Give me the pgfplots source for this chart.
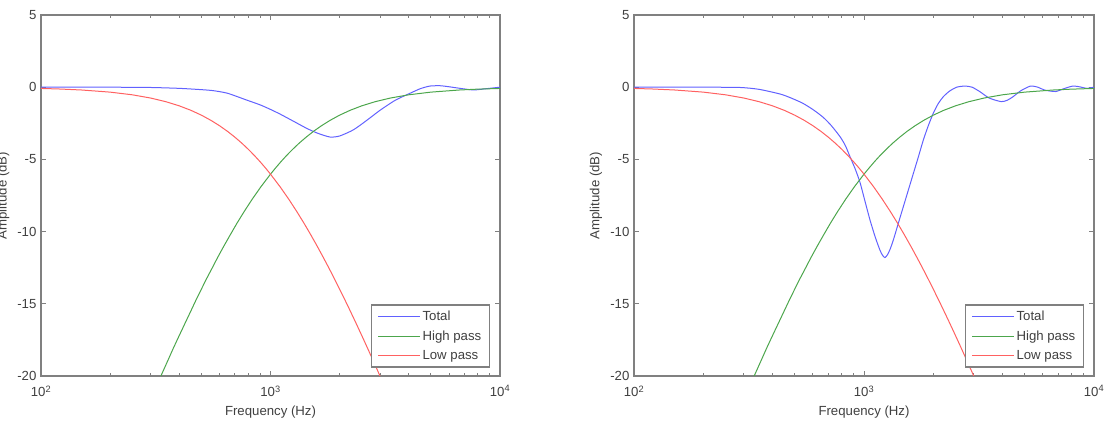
\documentclass[border=0pt]{standalone}
\usepackage{fontspec}
\setmainfont{Liberation Sans}
\usepackage{pgfplots}
\pgfplotsset{compat=1.18}

\definecolor{axgray}{rgb}{0.5,0.5,0.5}
\definecolor{txtgray}{rgb}{0.25,0.25,0.25}
\definecolor{mblue}{rgb}{0.38,0.38,1}
\definecolor{mgreen}{rgb}{0.3,0.65,0.3}
\definecolor{mred}{rgb}{1,0.38,0.38}

% Crossover filter responses: low pass and high pass sections (fc = 1 kHz)
\pgfplotstableread{
f      dB
100    -0.086
120    -0.124
150    -0.193
200    -0.341
250    -0.527
300    -0.749
350    -1.004
400    -1.289
450    -1.601
500    -1.938
550    -2.296
600    -2.671
650    -3.061
700    -3.464
750    -3.876
800    -4.297
850    -4.723
900    -5.154
950    -5.587
1000   -6.021
1100   -6.888
1200   -7.747
1300   -8.596
1400   -9.425
1500   -10.238
1600   -11.029
1700   -11.799
1800   -12.547
1900   -13.274
2000   -13.979
2100   -14.664
2200   -15.328
2350   -16.288
2500   -17.207
2650   -18.086
2800   -18.930
3000   -20.000
3200   -21.016
}\lowpass

\pgfplotstableread{
f      dB
312.5  -21.016
333    -20.000
357    -18.930
377    -18.086
400    -17.207
426    -16.288
455    -15.328
476    -14.664
500    -13.979
526    -13.274
556    -12.547
588    -11.799
625    -11.029
667    -10.238
714    -9.425
769    -8.596
833    -7.747
909    -6.888
1000   -6.021
1053   -5.587
1111   -5.154
1176   -4.723
1250   -4.297
1333   -3.876
1429   -3.464
1538   -3.061
1667   -2.671
1818   -2.296
2000   -1.938
2222   -1.601
2500   -1.289
2857   -1.004
3333   -0.749
4000   -0.527
5000   -0.341
6667   -0.193
8000   -0.135
10000  -0.086
}\highpass

% Summed response, first alignment
\pgfplotstableread{
f      dB
100    0
150    0
200    0
300    -0.02
400    -0.08
500    -0.17
563    -0.24
650    -0.42
787    -0.89
900    -1.22
1000   -1.54
1100   -1.86
1250   -2.33
1438   -2.85
1600   -3.18
1815   -3.45
2000   -3.38
2293   -2.96
2600   -2.35
3000   -1.60
3500   -0.90
4056   -0.42
4500   -0.10
4955   0.08
5500   0.10
6000   0.03
6697   -0.08
7662   -0.19
8750   -0.10
10000  0
}\totalA

% Summed response, second alignment
\pgfplotstableread{
f      dB
100    0
200    0
289    -0.02
350    -0.15
431    -0.47
477    -0.72
540    -1.10
600    -1.55
664    -2.08
720    -2.65
787    -3.43
830    -4.05
869    -4.81
915    -5.65
961    -6.60
1010   -7.90
1062   -9.20
1120   -10.40
1174   -11.30
1205   -11.65
1233   -11.80
1265   -11.60
1300   -11.20
1340   -10.60
1390   -9.76
1435   -9.02
1530   -7.55
1637   -6.00
1720   -4.87
1811   -3.66
1900   -2.70
2000   -1.81
2100   -1.15
2212   -0.66
2350   -0.28
2529   0.00
2750   0.08
2950   0.00
3190   -0.31
3500   -0.75
3950   -1.00
4200   -0.90
4446   -0.66
4800   -0.25
5300   0.08
5700   0.00
6100   -0.20
6800   -0.30
7400   -0.10
8100   0.08
8700   0.02
9300   -0.08
10000  0
}\totalB

\begin{document}
\fontsize{13.2}{15.5}\selectfont
\begin{tikzpicture}[x=1pt,y=1pt]
  \begin{axis}[
    at={(41pt,47pt)}, anchor=south west,
    xmode=log, log basis x=10,
    scale only axis, width=459pt, height=361pt,
    xmin=100, xmax=10000, ymin=-20, ymax=5,
    xtick={100,1000,10000},
    xticklabels={10\textsuperscript{2},10\textsuperscript{3},10\textsuperscript{4}},
    minor xtick={200,300,400,500,600,700,800,900,2000,3000,4000,5000,6000,7000,8000,9000},
    ytick={-20,-15,-10,-5,0,5},
    yticklabels={-20,-15,-10,-5,0,5},
    tick align=inside,
    major tick length=5pt, minor tick length=3pt,
    axis line style={axgray, line width=1.5pt},
    tick style={axgray, line width=1pt},
    tick label style={text=txtgray},
    xticklabel style={yshift=-5pt},
    label style={text=txtgray},
    xlabel={Frequency (Hz)}, ylabel={Amplitude (dB)},
    xlabel style={at={(axis description cs:0.5,-0.0997)}, anchor=center},
    ylabel style={at={(axis description cs:-0.0826,0.5)}, anchor=center},
    legend style={at={(axis description cs:1,0)}, anchor=south east,
      xshift=-10pt, yshift=8pt, draw=axgray, line width=1.5pt,
      inner xsep=6pt, inner ysep=4pt,
      nodes={inner sep=2pt}, row sep=4pt},
    legend cell align=left,
    legend image code/.code={\draw[line width=1pt] (0pt,0pt) -- (42pt,0pt);},
  ]
    \addplot[mblue, line width=1pt, smooth, tension=0.4]  table[x=f, y=dB] {\totalA};
    \addlegendentry{\textcolor{txtgray}{Total}}
    \addplot[mgreen, line width=1pt] table[x=f, y=dB] {\highpass};
    \addlegendentry{\textcolor{txtgray}{High pass}}
    \addplot[mred, line width=1pt]   table[x=f, y=dB] {\lowpass};
    \addlegendentry{\textcolor{txtgray}{Low pass}}
  \end{axis}
  \begin{axis}[
    at={(634pt,47pt)}, anchor=south west,
    xmode=log, log basis x=10,
    scale only axis, width=460pt, height=361pt,
    xmin=100, xmax=10000, ymin=-20, ymax=5,
    xtick={100,1000,10000},
    xticklabels={10\textsuperscript{2},10\textsuperscript{3},10\textsuperscript{4}},
    minor xtick={200,300,400,500,600,700,800,900,2000,3000,4000,5000,6000,7000,8000,9000},
    ytick={-20,-15,-10,-5,0,5},
    yticklabels={-20,-15,-10,-5,0,5},
    tick align=inside,
    major tick length=5pt, minor tick length=3pt,
    axis line style={axgray, line width=1.5pt},
    tick style={axgray, line width=1pt},
    tick label style={text=txtgray},
    xticklabel style={yshift=-5pt},
    label style={text=txtgray},
    xlabel={Frequency (Hz)}, ylabel={Amplitude (dB)},
    xlabel style={at={(axis description cs:0.5,-0.0997)}, anchor=center},
    ylabel style={at={(axis description cs:-0.0826,0.5)}, anchor=center},
    legend style={at={(axis description cs:1,0)}, anchor=south east,
      xshift=-10pt, yshift=8pt, draw=axgray, line width=1.5pt,
      inner xsep=6pt, inner ysep=4pt,
      nodes={inner sep=2pt}, row sep=4pt},
    legend cell align=left,
    legend image code/.code={\draw[line width=1pt] (0pt,0pt) -- (42pt,0pt);},
  ]
    \addplot[mblue, line width=1pt, smooth, tension=0.4]  table[x=f, y=dB] {\totalB};
    \addlegendentry{\textcolor{txtgray}{Total}}
    \addplot[mgreen, line width=1pt] table[x=f, y=dB] {\highpass};
    \addlegendentry{\textcolor{txtgray}{High pass}}
    \addplot[mred, line width=1pt]   table[x=f, y=dB] {\lowpass};
    \addlegendentry{\textcolor{txtgray}{Low pass}}
  \end{axis}
  \pgfresetboundingbox
  \path[use as bounding box] (0pt,0pt) rectangle (1105pt,423pt);
\end{tikzpicture}
\end{document}
